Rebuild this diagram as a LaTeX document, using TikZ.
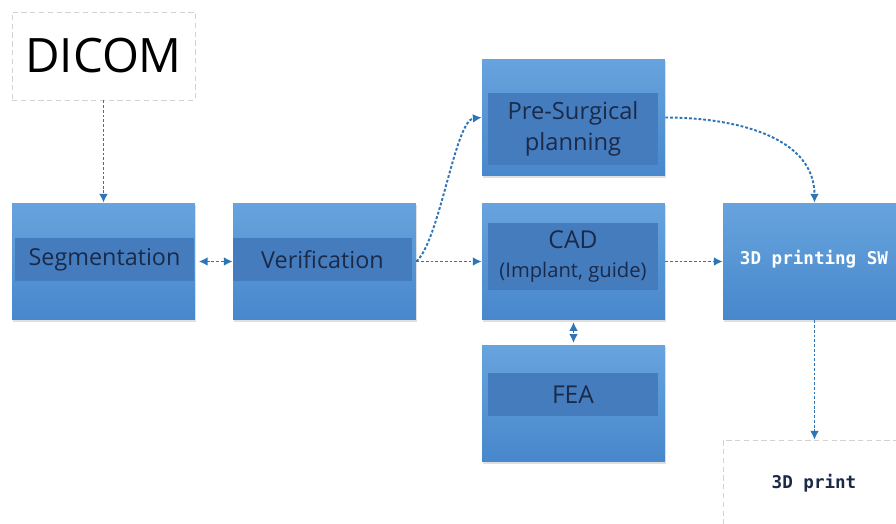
\documentclass[tikz,border=0pt]{standalone}
\usepackage{fontspec}
\setmainfont{Open Sans}
\newfontfamily\codefont{DejaVu Sans Mono}
\usetikzlibrary{arrows.meta,shadows}
\definecolor{boxtop}{HTML}{67A4DE}
\definecolor{boxbot}{HTML}{4787CB}
\definecolor{band}{HTML}{457CBE}
\definecolor{navy}{HTML}{1B2A48}
\definecolor{flow}{HTML}{2E75B6}

\begin{document}
\begin{tikzpicture}[x=0.02cm,y=-0.02cm,
	bluebox/.style={minimum width=3.66cm,minimum height=2.34cm,inner sep=0pt,top color=boxtop,bottom color=boxbot,drop shadow={opacity=0.25,shadow xshift=0.6pt,shadow yshift=-1pt}},
	bandbox/.style={fill=band,inner sep=0pt,minimum width=3.4cm,text=navy,align=center},
	whitebox/.style={draw=gray!35,densely dashed,minimum width=3.66cm,inner sep=0pt},
	flowline/.style={flow,dash pattern=on 1.6pt off 1.1pt,line width=1.1pt,-{Latex[length=5pt,width=5pt]}},
	twoway/.style={{Latex[length=5pt,width=5pt]}-{Latex[length=5pt,width=5pt]}}]
	\useasboundingbox (0,0) rectangle (896,524);
	\clip (0,0) rectangle (896,524);
	\node[whitebox,minimum height=1.76cm,font=\fontsize{27}{32}\selectfont] (dicom) at (103.5,56) {DICOM};
	\node[bluebox] (segm) at (103.5,261.5) {};
	\node[bandbox,minimum width=3.58cm,minimum height=0.86cm,font=\fontsize{13.3}{16}\selectfont] (segmband) at (104.5,259.5) {Segmentation};
	\node[bluebox] (verif) at (324.5,261.5) {};
	\node[bandbox,minimum width=3.58cm,minimum height=0.86cm,font=\fontsize{13.3}{16}\selectfont] (verifband) at (322.5,259.5) {Verification};
	\node[bluebox] (presurg) at (573.5,117.5) {};
	\node[bandbox,minimum height=1.44cm,font=\fontsize{13.5}{18}\selectfont] (presurgband) at (573,129) {Pre-Surgical\\planning};
	\node[bluebox] (cad) at (573.5,261.5) {};
	\node[bandbox,minimum height=1.34cm,font=\fontsize{14}{16}\selectfont] (cadband) at (573,256.5) {CAD\\{\fontsize{11.5}{16}\selectfont (Implant, guide)}};
	\node[bluebox] (fea) at (573.5,403.5) {};
	\node[bandbox,minimum height=0.86cm,font=\fontsize{14}{16}\selectfont] (feaband) at (573,394.5) {FEA};
	\node[bluebox] (prsw) at (814.5,261.5) {};
	\node[text=white,font=\codefont\bfseries\fontsize{10}{12}\selectfont] (prswtext) at (814,259) {3D printing SW};
	\node[whitebox,minimum height=2.34cm] (print) at (814.5,498.5) {};
	\node[text=navy,font=\codefont\bfseries\fontsize{10}{12}\selectfont] (printtext) at (814,483) {3D print};
	\draw[flowline] (dicom.south) -- (segm.north);
	\draw[flowline,twoway] ([xshift=2pt]segm.east) -- (verif.west);
	\draw[flowline] (verif.east) -- (cad.west);
	\draw[flowline] (verif.east) .. controls (440,240) and (455,120) .. (presurg.west);
	\draw[flowline] (presurg.east) to[out=0,in=90] (prsw.north);
	\draw[flowline] (cad.east) -- (prsw.west);
	\draw[flowline,twoway] ([yshift=-1pt]cad.south) -- ([yshift=1pt]fea.north);
	\draw[flowline] (prsw.south) -- (print.north);
\end{tikzpicture}
\end{document}
